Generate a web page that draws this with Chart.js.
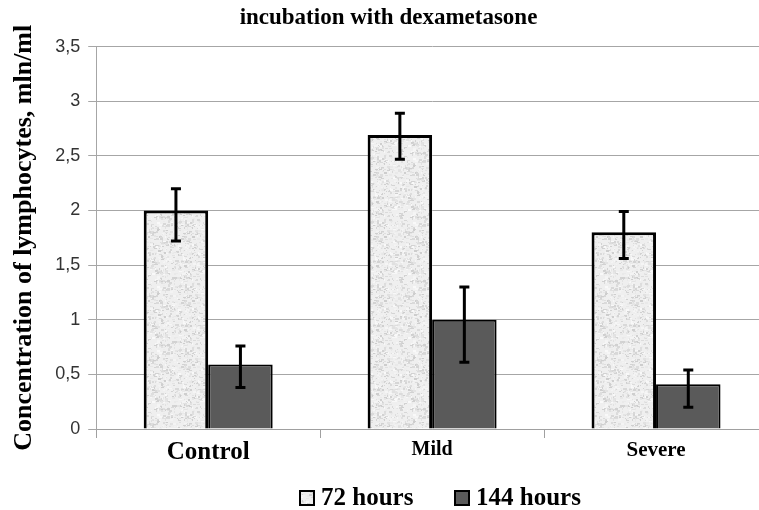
<!DOCTYPE html>
<html>
<head>
<meta charset="utf-8">
<script src="https://cdn.jsdelivr.net/npm/chart.js@4.4.1/dist/chart.umd.min.js"></script>
<style>
  html, body { margin: 0; padding: 0; background: #fff; overflow: hidden; }
  #wrap { width: 759px; height: 510px; overflow: hidden; }
  #wrap canvas { display: block; }
</style>
</head>
<body>
<div id="wrap"><canvas id="chart" width="772" height="510"></canvas></div>
<script>
// data
const groups = ['Control', 'Mild', 'Severe'];
const hours72 = [2.0, 2.69, 1.8];
const hours144 = [0.59, 1.0, 0.41];
// error bars: distance above / below the bar top
const err72Up = [0.2, 0.2, 0.19];
const err72Down = [0.28, 0.22, 0.24];
const err144Up = [0.17, 0.3, 0.13];
const err144Down = [0.21, 0.39, 0.21];
const yTicks = [0, 0.5, 1, 1.5, 2, 2.5, 3, 3.5];

const serif = '"Liberation Serif", "Times New Roman", serif';

// speckled light grey fill, like the printed figure
function makeSpeckle() {
  const c = document.createElement('canvas');
  c.width = 64; c.height = 64;
  const g = c.getContext('2d');
  g.fillStyle = '#efefef';
  g.fillRect(0, 0, 64, 64);
  let s = 987;
  const next = () => { s = (s * 1103515245 + 12345) % 2147483648; return s / 2147483648; };
  for (let i = 0; i < 900; i++) {
    const x = Math.floor(next() * 64);
    const y = Math.floor(next() * 64);
    const v = Math.floor(205 + next() * 45);
    g.fillStyle = 'rgb(' + v + ',' + v + ',' + v + ')';
    g.fillRect(x, y, 1 + Math.floor(next() * 3), 1 + Math.floor(next() * 2));
  }
  return g.createPattern(c, 'repeat');
}
const speckle = makeSpeckle();

const errorBars = {
  id: 'errorBars',
  afterDatasetsDraw(chart) {
    const ctx = chart.ctx;
    const y = chart.scales.y;
    const errs = [[err72Up, err72Down], [err144Up, err144Down]];
    ctx.save();
    ctx.strokeStyle = '#000';
    ctx.lineWidth = 3;
    chart.data.datasets.forEach((ds, di) => {
      const meta = chart.getDatasetMeta(di);
      meta.data.forEach((bar, i) => {
        const v = ds.data[i];
        const top = y.getPixelForValue(v + errs[di][0][i]);
        const bot = y.getPixelForValue(v - errs[di][1][i]);
        const x = bar.x;
        ctx.beginPath();
        ctx.moveTo(x, top); ctx.lineTo(x, bot);
        ctx.moveTo(x - 5, top); ctx.lineTo(x + 5, top);
        ctx.moveTo(x - 5, bot); ctx.lineTo(x + 5, bot);
        ctx.stroke();
      });
    });
    ctx.restore();
  }
};

// legend drawn by hand: the figure has a wide gap between the two entries
const bottomLegend = {
  id: 'bottomLegend',
  afterDraw(chart) {
    const ctx = chart.ctx;
    const starts = [300, 455];
    ctx.save();
    ctx.font = 'bold 25px ' + serif;
    ctx.textBaseline = 'alphabetic';
    chart.data.datasets.forEach((ds, i) => {
      const x = starts[i];
      ctx.fillStyle = ds.backgroundColor;
      ctx.fillRect(x, 491, 14, 14);
      ctx.strokeStyle = '#000';
      ctx.lineWidth = 2;
      ctx.strokeRect(x, 491, 14, 14);
      ctx.fillStyle = '#000';
      ctx.fillText(ds.label, x + 21, 505);
    });
    ctx.restore();
  }
};

new Chart(document.getElementById('chart'), {
  type: 'bar',
  data: {
    labels: groups,
    datasets: [
      {
        label: '72 hours',
        data: hours72,
        backgroundColor: speckle,
        borderColor: '#000',
        borderWidth: 3,
        categoryPercentage: 0.576,
        barPercentage: 1
      },
      {
        label: '144 hours',
        data: hours144,
        backgroundColor: '#5a5a5a',
        borderColor: '#000',
        borderWidth: 2,
        categoryPercentage: 0.576,
        barPercentage: 1
      }
    ]
  },
  options: {
    responsive: false,
    animation: false,
    layout: { padding: { right: 4, left: 9, top: 0, bottom: 42 } },
    plugins: {
      title: {
        display: true,
        text: 'incubation with dexametasone',
        color: '#000',
        font: { family: serif, size: 23, weight: 'bold' },
        padding: { top: 4, bottom: 15 }
      },
      legend: { display: false },
      tooltip: { enabled: false }
    },
    scales: {
      x: {
        grid: {
          display: true,
          drawOnChartArea: false,
          color: '#a0a0a0',
          tickLength: 9
        },
        border: { color: '#a0a0a0', width: 1 },
        ticks: {
          color: '#000',
          padding: 0,
          font: (c) => ({
            family: serif,
            weight: 'bold',
            size: [25, 20, 21][c.index] || 20
          })
        }
      },
      y: {
        min: 0,
        max: 3.5,
        afterBuildTicks: (axis) => { axis.ticks = yTicks.map(v => ({ value: v })); },
        grid: { color: '#a6a6a6', tickLength: 8 },
        border: { color: '#a6a6a6' },
        ticks: {
          color: '#333',
          padding: 8,
          font: { family: '"Liberation Sans", Arial, sans-serif', size: 18 },
          callback: (v) => String(v).replace('.', ',')
        },
        title: {
          display: true,
          text: 'Concentration of lymphocytes, mln/ml',
          color: '#000',
          font: { family: serif, size: 26, weight: 'bold' },
          padding: { top: 0, bottom: 7 }
        }
      }
    }
  },
  plugins: [errorBars, bottomLegend]
});
</script>
</body>
</html>
